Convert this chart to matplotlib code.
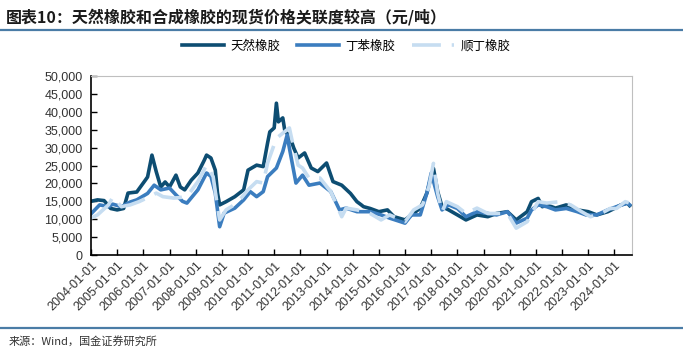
import numpy as np
import pandas as pd
import matplotlib
matplotlib.use('Agg')
import matplotlib.pyplot as plt
import matplotlib.dates as mdates
from matplotlib.lines import Line2D
from matplotlib.ticker import FuncFormatter

plt.rcParams['font.family'] = ['Liberation Sans', 'Noto Sans CJK SC', 'DejaVu Sans']

# 天然橡胶 (natural rubber), 元/吨
nr_dates = ['2004-01', '2004-04', '2004-07', '2004-08', '2004-10', '2005-01', '2005-04',
            '2005-06', '2005-10', '2006-02', '2006-03', '2006-05', '2006-07', '2006-09',
            '2006-11', '2007-01', '2007-04', '2007-06', '2007-08', '2007-11', '2008-02',
            '2008-05', '2008-06', '2008-08', '2008-10', '2008-11', '2008-12', '2009-03',
            '2009-07', '2009-11', '2010-01', '2010-05', '2010-08', '2010-10', '2010-11',
            '2011-01', '2011-02', '2011-03', '2011-05', '2011-06', '2011-08', '2011-10',
            '2011-12', '2012-03', '2012-06', '2012-09', '2013-01', '2013-04', '2013-08',
            '2013-12', '2014-03', '2014-05', '2014-06', '2014-09', '2015-01', '2015-05',
            '2015-08', '2016-01', '2016-04', '2016-08', '2016-11', '2017-02', '2017-04',
            '2017-06', '2017-09', '2018-01', '2018-05', '2018-10', '2019-03', '2019-07',
            '2019-12', '2020-04', '2020-09', '2020-11', '2021-02', '2021-04', '2021-06',
            '2021-10', '2022-03', '2022-08', '2023-01', '2023-05', '2023-10', '2024-01',
            '2024-04', '2024-07', '2024-08']
nr_values = [15000, 15400, 15200, 14500, 13000, 12600, 13000,
             17300, 17600, 21000, 21800, 27900, 23200, 19000,
             20400, 19000, 22300, 19000, 18200, 20900, 22900,
             26500, 27900, 27100, 23700, 17300, 14000, 14900,
             16300, 18200, 23700, 25100, 24700, 31300, 34400,
             35500, 42400, 37200, 38300, 34400, 33500, 29900,
             27100, 28500, 24300, 23300, 25700, 20500, 19500,
             17200, 14900, 14000, 13500, 13000, 12100, 12600,
             10700, 9800, 11200, 13100, 17300, 24200, 17700,
             13500, 12600, 11200, 9800, 11200, 10700, 11600,
             12100, 9800, 12100, 14900, 15800, 13500, 14000,
             13100, 14000, 12600, 12100, 11200, 12100, 13000,
             14000, 14500, 13800]

# 丁苯橡胶 (SBR)
sbr_dates = ['2004-01', '2004-05', '2004-09', '2004-11', '2005-03', '2005-07', '2005-10',
             '2006-03', '2006-06', '2006-09', '2007-01', '2007-04', '2007-07', '2007-09',
             '2008-02', '2008-06', '2008-08', '2008-10', '2008-12', '2009-02', '2009-07',
             '2009-11', '2010-02', '2010-05', '2010-08', '2010-10', '2011-02', '2011-05',
             '2011-07', '2011-08', '2011-11', '2012-02', '2012-05', '2012-10', '2013-03',
             '2013-07', '2013-10', '2014-03', '2014-09', '2015-02', '2015-06', '2016-01',
             '2016-04', '2016-08', '2016-11', '2017-01', '2017-04', '2017-06', '2017-09',
             '2018-01', '2018-05', '2018-10', '2019-03', '2019-07', '2019-12', '2020-04',
             '2020-09', '2020-11', '2021-02', '2021-06', '2021-10', '2022-03', '2022-08',
             '2022-12', '2023-05', '2023-10', '2024-02', '2024-07', '2024-08']
sbr_values = [11500, 14000, 13500, 14200, 13500, 14800, 15400,
              17200, 19500, 18200, 18700, 16800, 15000, 14500,
              18200, 22900, 22000, 17300, 7900, 11700, 13100,
              15400, 17700, 16300, 17700, 21900, 24300, 28900,
              33500, 29900, 20100, 22300, 19500, 20100, 17700,
              12600, 13100, 12100, 12100, 11200, 10300, 8900,
              11200, 11200, 17300, 22900, 16300, 12600, 14000,
              13000, 10700, 12100, 11600, 11200, 12100, 8900,
              10300, 12600, 14000, 13500, 12600, 13000, 12100,
              11200, 11200, 12600, 13500, 14500, 14000]

# 顺丁橡胶 (BR)
br_dates = ['2004-01', '2004-04', '2004-09', '2004-11', '2005-03', '2005-07', '2005-11',
            '2006-04', '2006-07', '2006-10', '2007-03', '2007-05', '2007-09', '2008-02',
            '2008-06', '2008-09', '2008-11', '2008-12', '2009-03', '2009-08', '2010-01',
            '2010-05', '2010-08', '2010-10', '2011-02', '2011-08', '2011-09', '2011-12',
            '2012-02', '2012-05', '2012-10', '2013-03', '2013-08', '2013-10', '2014-03',
            '2014-09', '2015-02', '2015-06', '2016-01', '2016-05', '2016-09', '2016-12',
            '2017-02', '2017-04', '2017-06', '2017-08', '2018-01', '2018-05', '2018-10',
            '2019-03', '2019-12', '2020-04', '2020-09', '2020-11', '2021-02', '2021-06',
            '2021-12', '2022-05', '2022-10', '2023-02', '2023-07', '2023-11', '2024-02',
            '2024-06', '2024-08']
br_values = [10300, 11200, 14000, 16200, 13500, 14000, 14900,
             16300, 17300, 16300, 15900, 16000, 16300, 20500,
             25100, 21900, 13500, 9800, 12600, 14500, 18200,
             20500, 20100, 25700, 32600, 35500, 32600, 25100,
             24300, 21500, 21500, 17700, 10700, 13100, 12600,
             11600, 9800, 11200, 9300, 12600, 14000, 19100,
             25600, 17300, 12100, 14900, 13500, 11600, 13100,
             11600, 11600, 7500, 9300, 11600, 14900, 14500,
             14900, 14000, 12100, 10700, 11600, 13000, 13000,
             14900, 14500]

series_names = ['天然橡胶', '丁苯橡胶', '顺丁橡胶']
colors = ['#0d4d72', '#3b7dbf', '#c6ddf1']

fig = plt.figure(figsize=(6.83, 3.47), dpi=100)
ax = fig.add_axes([0.1332, 0.2651, 0.925 - 0.1332, 0.781 - 0.2651])

lw = 2.6
ax.plot(pd.to_datetime(nr_dates), nr_values, color=colors[0], lw=lw)
ax.plot(pd.to_datetime(sbr_dates), sbr_values, color=colors[1], lw=lw)
ax.plot(pd.to_datetime(br_dates), br_values, color=colors[2], lw=lw, dashes=(8, 3))

ax.set_ylim(0, 50000)
ax.set_yticks(np.arange(0, 50001, 5000))
ax.yaxis.set_major_formatter(FuncFormatter(lambda v, p: f'{int(v):,}'))
ax.set_xlim(pd.Timestamp('2004-01-01'), pd.Timestamp('2024-08-31'))
ax.xaxis.set_major_locator(mdates.YearLocator(1, month=1, day=1))
ax.xaxis.set_major_formatter(mdates.DateFormatter('%Y-%m-%d'))

ax.tick_params(axis='both', direction='in', length=4, width=1, labelsize=9,
               labelcolor='#333333')
ax.tick_params(axis='y', pad=6)
for lbl in ax.get_xticklabels():
    lbl.set_rotation(45)
    lbl.set_ha('right')
    lbl.set_rotation_mode('anchor')

for s in ['left', 'bottom']:
    ax.spines[s].set_color('black')
    ax.spines[s].set_linewidth(1.2)
for s in ['top', 'right']:
    ax.spines[s].set_color('#bfbfbf')
    ax.spines[s].set_linewidth(0.8)

handles = [Line2D([], [], color=colors[0], lw=lw),
           Line2D([], [], color=colors[1], lw=lw),
           Line2D([], [], color=colors[2], lw=lw, dashes=(8, 3))]
fig.legend(handles, series_names, loc='center', bbox_to_anchor=(0.507, 0.867),
           ncol=3, frameon=False, handlelength=3.4, columnspacing=1.3,
           handletextpad=0.5, prop={'family': ['Noto Sans CJK SC'], 'size': 9})

fig.text(0.008, 0.975, '图表10：天然橡胶和合成橡胶的现货价格关联度较高（元/吨）',
         family=['Noto Sans CJK SC'], fontsize=11.5, fontweight='bold',
         style='italic', va='top', ha='left', color='#1a1a1a')
fig.add_artist(Line2D([0, 1], [1 - 30 / 347, 1 - 30 / 347], color='#4a7ca6', lw=1.6))
fig.add_artist(Line2D([0, 1], [1 - 328 / 347, 1 - 328 / 347], color='#4a7ca6', lw=1.6))
fig.text(0.012, 1 - 341 / 347, '来源：Wind，国金证券研究所', family=['Noto Sans CJK SC'],
         fontsize=8, va='center', ha='left', color='#333333')

fig.savefig('out.png', dpi=100)
